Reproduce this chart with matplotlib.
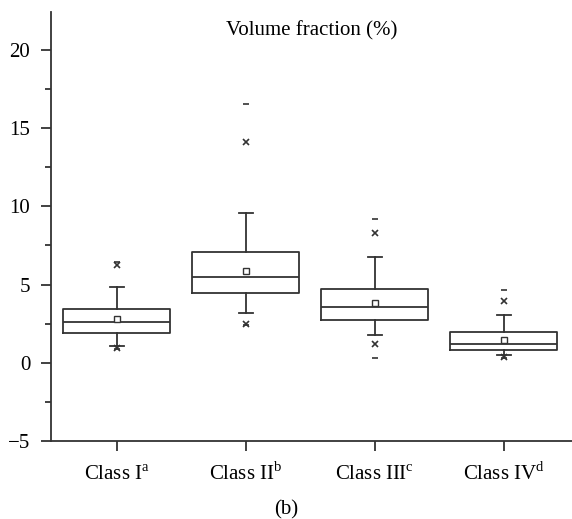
import numpy as np
import matplotlib.pyplot as plt
import matplotlib.transforms as mtransforms

plt.rcParams['font.family'] = ['Liberation Serif', 'DejaVu Serif']
plt.rcParams['mathtext.fontset'] = 'custom'
plt.rcParams['mathtext.rm'] = 'Liberation Serif'

classes = [r'Class I$^{\mathrm{a}}$', r'Class II$^{\mathrm{b}}$',
           r'Class III$^{\mathrm{c}}$', r'Class IV$^{\mathrm{d}}$']

# box statistics per class (volume fraction, %)
q1 = [1.89, 4.43, 2.75, 0.82]
med = [2.60, 5.45, 3.58, 1.21]
q3 = [3.42, 7.09, 4.73, 1.94]
mean = [2.77, 5.88, 3.85, 1.47]
whislo = [1.08, 3.21, 1.75, 0.50]
whishi = [4.81, 9.54, 6.77, 3.07]
# 1st / 99th percentiles (x) and min / max (dash)
p01 = [0.97, 2.49, 1.17, 0.36]
p99 = [6.22, 14.08, 8.28, 3.92]
vmin = [0.90, 2.40, 0.32, 0.30]
vmax = [6.43, 16.50, 9.20, 4.62]

stats = []
for i in range(len(classes)):
    stats.append({'med': med[i], 'q1': q1[i], 'q3': q3[i], 'mean': mean[i],
                  'whislo': whislo[i], 'whishi': whishi[i], 'fliers': []})

col = '#333333'
fs = 15
fig = plt.figure(figsize=(5.72, 5.19), dpi=100)
ax = fig.add_axes([0.0892, 0.150, 0.9108, 0.827])

pos = np.arange(1, len(classes) + 1)
ax.bxp(stats, positions=pos, widths=0.83, showmeans=True, capwidths=0.11,
       boxprops=dict(color=col, lw=1.3),
       medianprops=dict(color=col, lw=1.3),
       whiskerprops=dict(color=col, lw=1.3),
       capprops=dict(color=col, lw=1.3),
       meanprops=dict(marker='s', markersize=4, markerfacecolor='white',
                      markeredgecolor=col, markeredgewidth=1.0))

ax.plot(pos, p01, 'x', color=col, ms=5, mew=1.2, ls='none')
ax.plot(pos, p99, 'x', color=col, ms=5, mew=1.2, ls='none')
ax.plot(pos, vmin, '_', color=col, ms=5, mew=1.2, ls='none')
ax.plot(pos, vmax, '_', color=col, ms=5, mew=1.2, ls='none')

ax.set_xlim(0.49, 4.53)
ax.set_ylim(-5, 22.4)
ax.set_yticks([-5, 0, 5, 10, 15, 20])
ax.set_yticklabels(['\u22125', '0', '5', '10', '15', '20'])
ax.set_yticks(np.arange(-2.5, 22.5, 5), minor=True)
ax.set_xticks(pos)
ax.set_xticklabels([])

# class names on a common baseline below the ticks
trans = mtransforms.blended_transform_factory(ax.transData, fig.transFigure)
for p, name in zip(pos, classes):
    ax.text(p, 0.075, name, transform=trans,
            ha='center', va='baseline', fontsize=fs)

for s in ['top', 'right']:
    ax.spines[s].set_visible(False)
for s in ['left', 'bottom']:
    ax.spines[s].set_color(col)
    ax.spines[s].set_linewidth(1.3)
ax.tick_params(axis='both', which='major', direction='out', length=7,
               width=1.3, color=col, labelsize=fs, pad=8)
ax.tick_params(axis='y', which='minor', direction='out', length=4,
               width=1.3, color=col)

ax.text(0.5, 0.978, 'Volume fraction (%)', transform=ax.transAxes,
        ha='center', va='top', fontsize=fs)
fig.text(0.5, 0.008, '(b)', ha='center', va='baseline', fontsize=fs)

fig.savefig('out.png', dpi=100)
